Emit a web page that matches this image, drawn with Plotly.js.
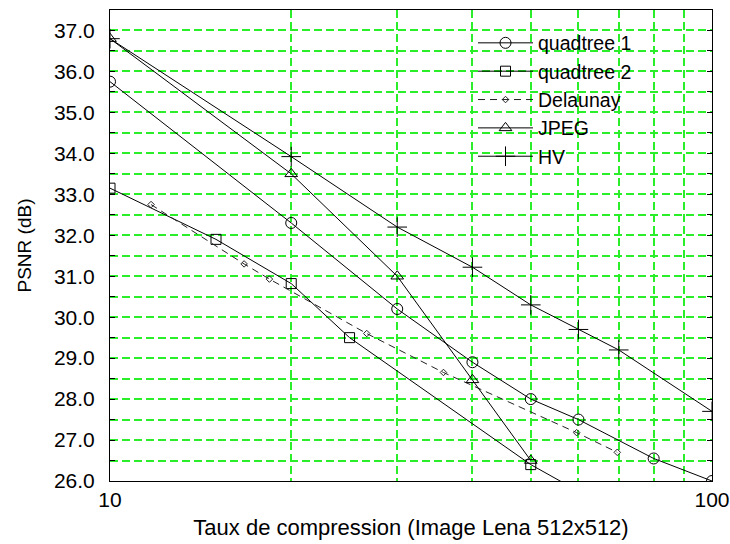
<!DOCTYPE html>
<html>
<head>
<meta charset="utf-8">
<script src="https://cdn.plot.ly/plotly-3.0.1.min.js"></script>
<style>html,body{margin:0;padding:0;background:#fff;}#chart{width:730px;height:544px;}</style>
</head>
<body>
<div id="chart"></div>
<script>
// Data
const q1X = [10, 20, 30, 40, 50, 60, 80, 100];
const q1Y = [35.75, 32.3, 30.2, 28.9, 28.0, 27.5, 26.55, 26.0];

const q2X = [10, 15, 20, 25, 50, 60];
const q2Y = [33.15, 31.9, 30.82, 29.5, 26.4, 25.75];

const delX = [11.7, 16.7, 18.4, 26.7, 35.8, 59.6, 69.6];
const delY = [32.75, 31.3, 30.93, 29.6, 28.65, 27.18, 26.7];

const jpegX = [10, 20, 30, 40, 50];
const jpegY = [36.8, 33.5, 31.0, 28.47, 26.5];

const hvX = [10, 20, 30, 40, 50, 60, 70, 100];
const hvY = [36.8, 33.92, 32.2, 31.22, 30.3, 29.7, 29.2, 27.7];

const seriesNames = ['quadtree 1', 'quadtree 2', 'Delaunay', 'JPEG', 'HV'];
const xTickVals = [10, 100];
const xTickText = ['10', '100'];
const xMinorVals = [20, 30, 40, 50, 60, 70, 80, 90];

const FONT = 'Liberation Sans, Arial, Helvetica, sans-serif';
const GRID = '#2aee2a';
const GRIDDASH = '8px,4px';
const GW = 2;

function mk(x, y, name, symbol, size, dash, color) {
  return {
    x: x, y: y, name: name, type: 'scatter', mode: 'lines+markers',
    line: {color: color || '#000', width: 1, dash: dash || 'solid'},
    marker: {symbol: symbol, size: size, color: color || '#000', line: {color: color || '#000', width: 1}},
    cliponaxis: true
  };
}

const traces = [
  mk(q1X, q1Y, seriesNames[0], 'circle-open', 11),
  mk(q2X, q2Y, seriesNames[1], 'square-open', 10),
  mk(delX, delY, seriesNames[2], 'diamond-open', 5, '7px,5px', '#222'),
  mk(jpegX, jpegY, seriesNames[3], 'triangle-up-open', 11),
  mk(hvX, hvY, seriesNames[4], 'cross-thin-open', 14)
];

const layout = {
  width: 730, height: 544,
  margin: {l: 110, r: 18, t: 10, b: 63},
  paper_bgcolor: '#fff', plot_bgcolor: '#fff',
  font: {family: FONT, size: 20, color: '#000'},
  showlegend: true,
  legend: {
    x: 0.603, y: 0.971, xanchor: 'left', yanchor: 'top',
    bgcolor: 'rgba(0,0,0,0)', borderwidth: 0,
    font: {family: FONT, size: 19.5, color: '#000'},
    itemwidth: 55, tracegroupgap: 0
  },
  xaxis: {
    type: 'log', range: [1, 2],
    tickmode: 'array', tickvals: xTickVals, ticktext: xTickText,
    showline: true, linecolor: '#000', linewidth: 1, mirror: true,
    ticks: '', showgrid: false, zeroline: false,
    tickfont: {family: FONT, size: 21},
    minor: {tickmode: 'array', tickvals: xMinorVals, showgrid: true, gridcolor: GRID, gridwidth: GW, griddash: GRIDDASH, ticks: ''},
    title: {text: 'Taux de compression (Image Lena 512x512)', font: {family: FONT, size: 22}, standoff: 9}
  },
  yaxis: {
    range: [26, 37.5], tick0: 26, dtick: 1, tickformat: '.1f',
    showline: true, linecolor: '#000', linewidth: 1, mirror: 'ticks',
    ticks: 'inside', ticklen: 5, tickcolor: '#000',
    ticklabelstandoff: 10,
    showgrid: true, gridcolor: GRID, gridwidth: GW, griddash: GRIDDASH, zeroline: false,
    tickfont: {family: FONT, size: 21},
    minor: {dtick: 0.5, tick0: 26, showgrid: true, gridcolor: GRID, gridwidth: GW, griddash: GRIDDASH, ticks: 'inside', ticklen: 5, tickcolor: '#000'},
    title: {text: 'PSNR (dB)', font: {family: FONT, size: 19}, standoff: 17}
  }
};

Plotly.newPlot('chart', traces, layout, {displayModeBar: false, staticPlot: true});
</script>
</body>
</html>
